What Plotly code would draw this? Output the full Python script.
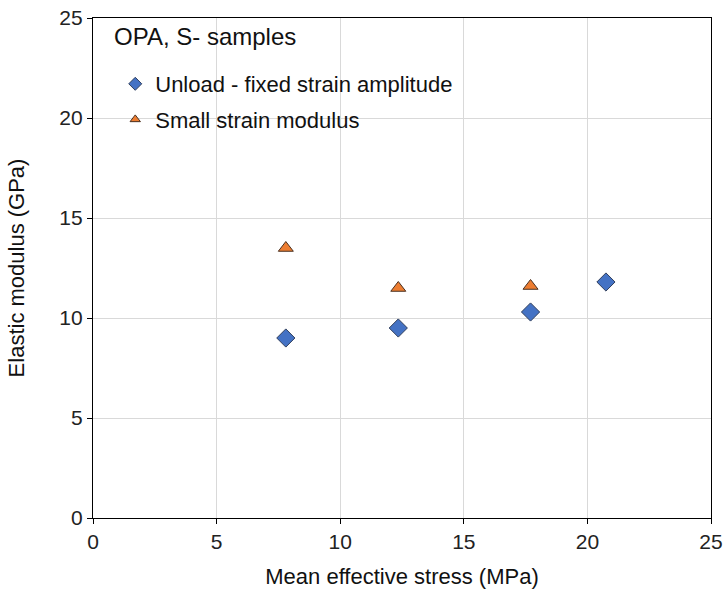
import plotly.graph_objects as go

unload_x = [7.8, 12.35, 17.7, 20.75]
unload_y = [9.0, 9.5, 10.3, 11.8]
small_x = [7.8, 12.35, 17.7]
small_y = [13.5, 11.5, 11.6]

unload_name = "Unload - fixed strain amplitude"
small_name = "Small strain modulus"
blue, blue_line = "#4472C4", "#2F3E5C"
orange, orange_line = "#ED7D31", "#4A3020"

fig = go.Figure()
fig.add_trace(go.Scatter(
    x=unload_x, y=unload_y, mode="markers", name=unload_name, showlegend=False,
    legendgroup="a",
    marker=dict(symbol="diamond", size=14, color=blue, line=dict(color=blue_line, width=1))))
fig.add_trace(go.Scatter(
    x=small_x, y=small_y, mode="markers", name=small_name, showlegend=False,
    legendgroup="b",
    marker=dict(symbol="triangle-up", size=13, color=orange, line=dict(color=orange_line, width=1))))
# legend entries with the smaller legend symbols
fig.add_trace(go.Scatter(
    x=[None], y=[None], mode="markers", name=unload_name, legendgroup="a",
    marker=dict(symbol="diamond", size=10, color=blue, line=dict(color=blue_line, width=1))))
fig.add_trace(go.Scatter(
    x=[None], y=[None], mode="markers", name=small_name, legendgroup="b",
    marker=dict(symbol="triangle-up", size=9, color=orange, line=dict(color=orange_line, width=1))))

axis_common = dict(
    range=[0, 25], dtick=5, showgrid=True, gridcolor="#D9D9D9", gridwidth=1,
    showline=True, linecolor="black", linewidth=1.3, mirror=True,
    ticks="outside", ticklen=5, tickcolor="black", zeroline=False, automargin=False,
    tickfont=dict(size=21, color="#222"), fixedrange=True)

fig.update_layout(
    width=725, height=592,
    margin=dict(l=93, r=14, t=18, b=74),
    paper_bgcolor="white", plot_bgcolor="white",
    font=dict(family="Liberation Sans, Arial, sans-serif", color="#111"),
    xaxis=dict(**axis_common, title=dict(text="Mean effective stress (MPa)", font=dict(size=22), standoff=16)),
    yaxis=dict(**axis_common, title=dict(text="Elastic modulus (GPa)", font=dict(size=22), standoff=28)),
    showlegend=True,
    legend=dict(x=0.036, y=0.91, xanchor="left", yanchor="top", bgcolor="rgba(0,0,0,0)",
                font=dict(size=22), itemwidth=30, tracegroupgap=4, itemclick=False),
    annotations=[dict(text="OPA, S- samples", x=0.03, y=0.995, xref="paper", yref="paper",
                      xanchor="left", yanchor="top", showarrow=False, font=dict(size=24))],
)

fig.write_html("out.html")
